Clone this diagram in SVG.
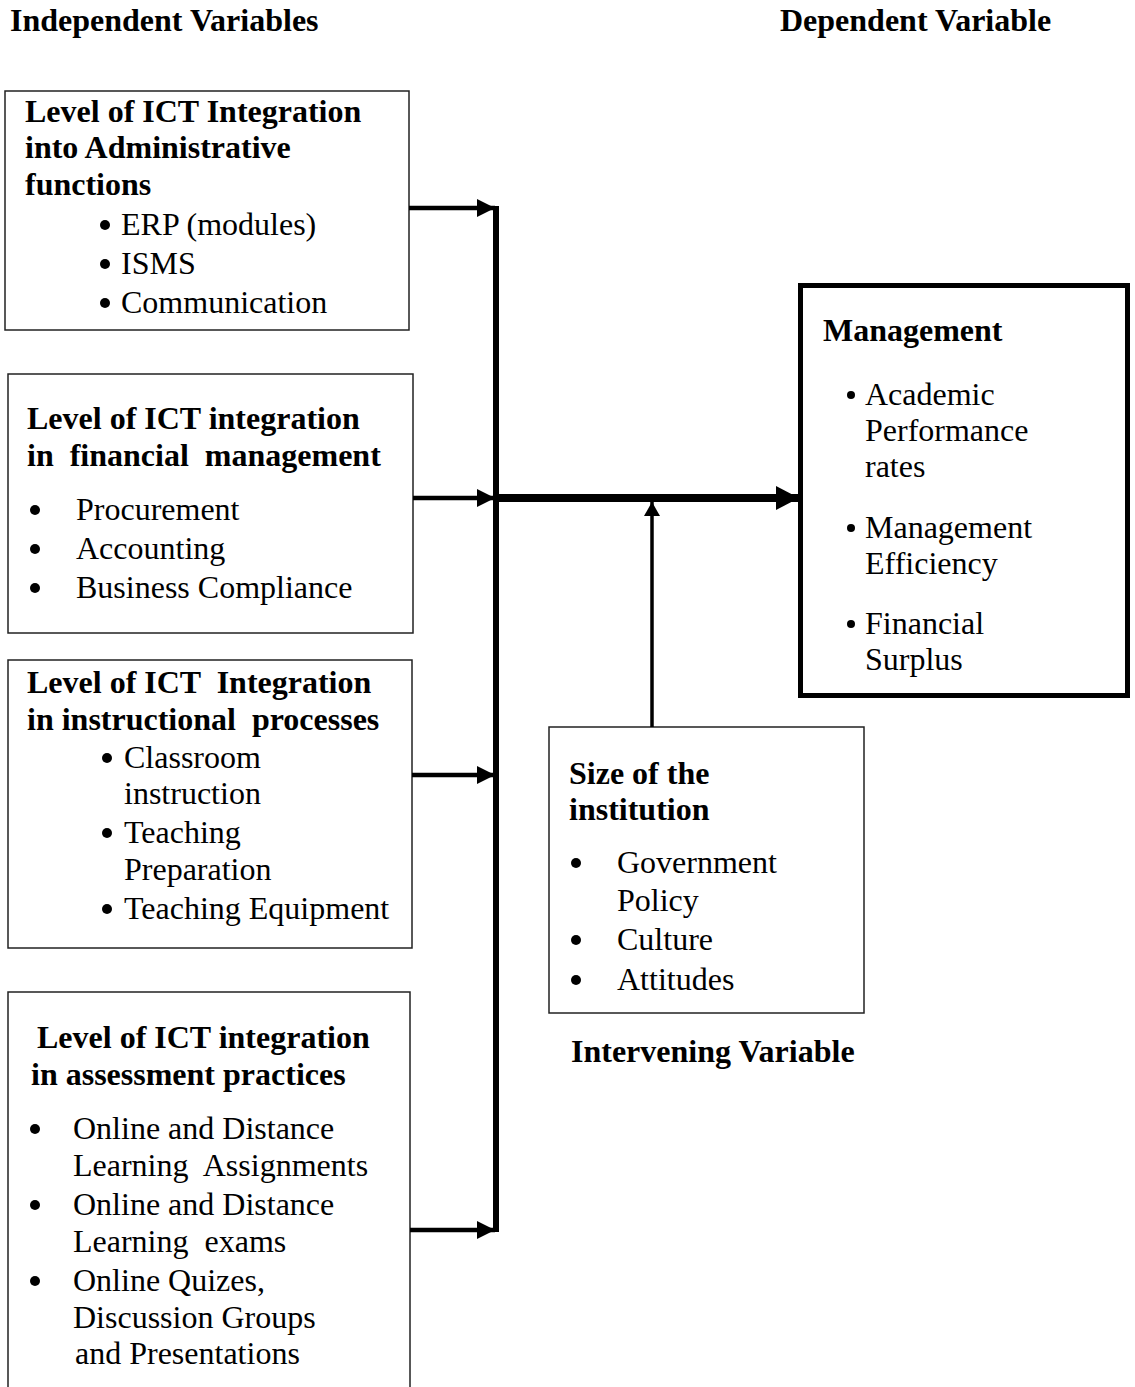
<svg xmlns="http://www.w3.org/2000/svg" width="1135" height="1387" viewBox="0 0 1135 1387">
<style>
text{font-family:"Liberation Serif","Times New Roman",serif;font-size:32px;fill:#000}
.b{font-weight:bold}
.box{fill:#fff;stroke:#222;stroke-width:1.5}
.dot{fill:#000}
.ln{stroke:#000;fill:none}
</style>
<defs>
<marker id="ah" markerUnits="userSpaceOnUse" markerWidth="18" markerHeight="18" refX="18" refY="9" orient="auto" viewBox="0 0 18 18"><path d="M0,0 L18,9 L0,18 Z" fill="#000"/></marker>
<marker id="ahBig" markerUnits="userSpaceOnUse" markerWidth="23" markerHeight="24" refX="23" refY="12" orient="auto" viewBox="0 0 23 24"><path d="M0,0 L23,12 L0,24 Z" fill="#000"/></marker>
<marker id="ahUp" markerUnits="userSpaceOnUse" markerWidth="14" markerHeight="16" refX="14" refY="8" orient="auto" viewBox="0 0 14 16"><path d="M0,0 L14,8 L0,16 Z" fill="#000"/></marker>
</defs>
<rect width="1135" height="1387" fill="#fff"/>

<g id="labels">
<text class="b" x="10" y="31">Independent Variables</text>
<text class="b" x="780" y="31">Dependent Variable</text>
<text class="b" x="571" y="1062">Intervening Variable</text>
</g>

<g id="node-admin">
<rect class="box" x="5" y="91" width="404" height="239"/>
<text class="b" x="25" y="122">Level of ICT Integration</text>
<text class="b" x="25" y="158">into Administrative</text>
<text class="b" x="25" y="195">functions</text>
<circle class="dot" cx="105" cy="225" r="5"/><text x="121" y="235">ERP (modules)</text>
<circle class="dot" cx="105" cy="264" r="5"/><text x="121" y="274">ISMS</text>
<circle class="dot" cx="105" cy="303" r="5"/><text x="121" y="313">Communication</text>
</g>

<g id="node-finance">
<rect class="box" x="8" y="374" width="405" height="259"/>
<text class="b" x="27" y="429">Level of ICT integration</text>
<text class="b" x="27" y="466" xml:space="preserve">in  financial  management</text>
<circle class="dot" cx="35" cy="510" r="5"/><text x="76" y="520">Procurement</text>
<circle class="dot" cx="35" cy="549" r="5"/><text x="76" y="559">Accounting</text>
<circle class="dot" cx="35" cy="588" r="5"/><text x="76" y="598">Business Compliance</text>
</g>

<g id="node-instruction">
<rect class="box" x="8" y="660" width="404" height="288"/>
<text class="b" x="27" y="693" xml:space="preserve">Level of ICT  Integration</text>
<text class="b" x="27" y="730" xml:space="preserve">in instructional  processes</text>
<circle class="dot" cx="107" cy="758" r="5"/><text x="124" y="768">Classroom</text>
<text x="124" y="804">instruction</text>
<circle class="dot" cx="107" cy="833" r="5"/><text x="124" y="843">Teaching</text>
<text x="124" y="880">Preparation</text>
<circle class="dot" cx="107" cy="909" r="5"/><text x="124" y="919">Teaching Equipment</text>
</g>

<g id="node-assessment">
<rect class="box" x="8" y="992" width="402" height="400"/>
<text class="b" x="37" y="1048">Level of ICT integration</text>
<text class="b" x="31" y="1085">in assessment practices</text>
<circle class="dot" cx="35" cy="1129" r="5"/><text x="73" y="1139">Online and Distance</text>
<text x="73" y="1176" xml:space="preserve">Learning  Assignments</text>
<circle class="dot" cx="35" cy="1205" r="5"/><text x="73" y="1215">Online and Distance</text>
<text x="73" y="1252" xml:space="preserve">Learning  exams</text>
<circle class="dot" cx="35" cy="1281" r="5"/><text x="73" y="1291">Online Quizes,</text>
<text x="73" y="1328">Discussion Groups</text>
<text x="75" y="1364">and Presentations</text>
</g>

<g id="node-management">
<rect x="800.5" y="285.5" width="327" height="410" fill="#fff" stroke="#000" stroke-width="5"/>
<text class="b" x="823" y="341">Management</text>
<circle class="dot" cx="851" cy="395" r="4"/><text x="865" y="405">Academic</text>
<text x="865" y="441">Performance</text>
<text x="865" y="477">rates</text>
<circle class="dot" cx="851" cy="528" r="4"/><text x="865" y="538">Management</text>
<text x="865" y="574">Efficiency</text>
<circle class="dot" cx="851" cy="624" r="4"/><text x="865" y="634">Financial</text>
<text x="865" y="670">Surplus</text>
</g>

<g id="node-intervening">
<rect class="box" x="549" y="727" width="315" height="286"/>
<text class="b" x="569" y="784">Size of the</text>
<text class="b" x="569" y="820">institution</text>
<circle class="dot" cx="576" cy="863" r="5"/><text x="617" y="873">Government</text>
<text x="617" y="911">Policy</text>
<circle class="dot" cx="576" cy="940" r="5"/><text x="617" y="950">Culture</text>
<circle class="dot" cx="576" cy="980" r="5"/><text x="617" y="990">Attitudes</text>
</g>

<g id="connectors">
<line class="ln" x1="496" y1="206" x2="496" y2="1232" stroke-width="6"/>
<line class="ln" x1="409" y1="208" x2="495" y2="208" stroke-width="4.5" marker-end="url(#ah)"/>
<line class="ln" x1="413" y1="498" x2="495" y2="498" stroke-width="4.5" marker-end="url(#ah)"/>
<line class="ln" x1="412" y1="775" x2="495" y2="775" stroke-width="4.5" marker-end="url(#ah)"/>
<line class="ln" x1="410" y1="1230" x2="495" y2="1230" stroke-width="4.5" marker-end="url(#ah)"/>
<line class="ln" x1="499" y1="498" x2="799" y2="498" stroke-width="8" marker-end="url(#ahBig)"/>
<line class="ln" x1="652" y1="727" x2="652" y2="502" stroke-width="3.5" marker-end="url(#ahUp)"/>
</g>
</svg>
